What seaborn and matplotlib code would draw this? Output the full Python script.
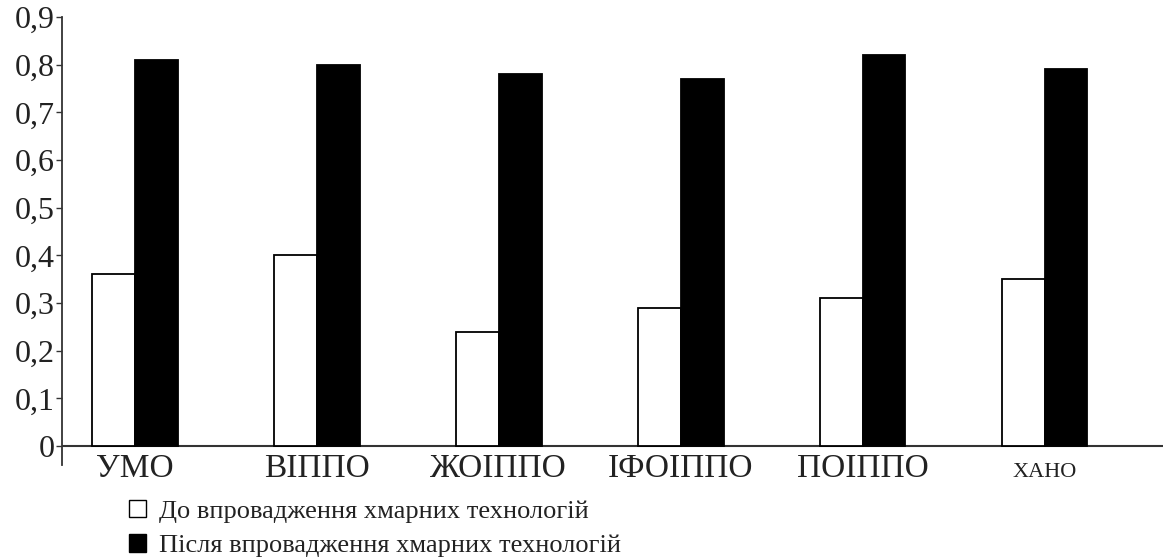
import pandas as pd
import matplotlib
matplotlib.use("Agg")
import matplotlib.pyplot as plt
import matplotlib.transforms as mtransforms
import seaborn as sns
from matplotlib.patches import Patch

# values
institutions = ['УМО', 'ВІППО', 'ЖОІППО', 'ІФОІППО', 'ПОІППО', 'ХАНО']
before = [0.36, 0.40, 0.24, 0.29, 0.31, 0.35]
after = [0.81, 0.80, 0.78, 0.77, 0.82, 0.79]
series_names = ['До впровадження хмарних технологій',
                'Після впровадження хмарних технологій']
y_ticks = [0, 0.1, 0.2, 0.3, 0.4, 0.5, 0.6, 0.7, 0.8, 0.9]
y_tick_labels = ['0', '0,1', '0,2', '0,3', '0,4', '0,5', '0,6', '0,7', '0,8', '0,9']

# long form table for seaborn
df = pd.DataFrame({
    'inst': institutions * 2,
    'value': before + after,
    'period': [series_names[0]] * len(before) + [series_names[1]] * len(after),
})

sns.set_style('white')
plt.rcParams['font.family'] = ['Liberation Serif', 'DejaVu Serif']
text_col = '#222222'
line_col = '#333333'

fig = plt.figure(figsize=(11.63, 5.59), dpi=100)
ax = fig.add_axes([0.0533, 0.168, 0.9467, 0.8016])

sns.barplot(data=df, x='inst', y='value', hue='period', order=institutions,
            hue_order=series_names,
            palette={series_names[0]: 'white', series_names[1]: 'black'},
            edgecolor='black', linewidth=1.3, width=0.47, gap=0,
            legend=False, ax=ax)

ax.set_ylim(-0.04, 0.9)
ax.set_xlim(-0.40, 5.65)
ax.set_yticks(y_ticks)
ax.set_yticklabels(y_tick_labels, fontsize=23, color=text_col)
ax.tick_params(axis='y', length=4, width=1, color=line_col, pad=1, direction='out', left=True)
ax.tick_params(axis='x', length=0, pad=-8, labelsize=24, labelcolor=text_col)
for lbl in ax.get_xticklabels():
    if lbl.get_text() == 'ХАНО':
        lbl.set_fontsize(16)
        # the small label sits a bit lower in the original
        lbl.set_transform(lbl.get_transform() +
                          mtransforms.ScaledTranslation(0, -9 / 100, fig.dpi_scale_trans))

for side in ['top', 'right', 'bottom']:
    ax.spines[side].set_visible(False)
ax.spines['left'].set_color(line_col)
ax.spines['left'].set_linewidth(1.3)
ax.axhline(0, color=line_col, lw=1.5, zorder=0.5)
ax.set_xlabel('')
ax.set_ylabel('')

handles = [Patch(facecolor='white', edgecolor='black', linewidth=1.0),
           Patch(facecolor='black', edgecolor='black', linewidth=1.0)]
fig.legend(handles, series_names, loc='upper left', bbox_to_anchor=(0.111, 0.106),
           frameon=False, fontsize=19, labelcolor=text_col, borderpad=0,
           borderaxespad=0, handlelength=0.65, handleheight=0.65,
           handletextpad=0.5, labelspacing=0.42)

fig.savefig('out.png', dpi=100)
